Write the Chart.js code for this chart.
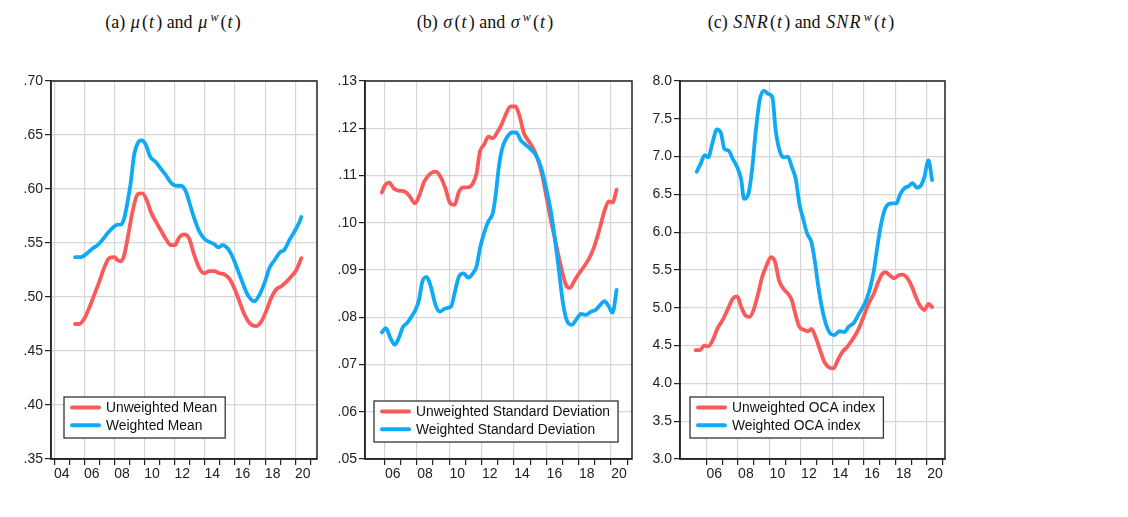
<!DOCTYPE html>
<html>
<head>
<meta charset="utf-8">
<script src="https://cdn.jsdelivr.net/npm/chart.js@4.4.1/dist/chart.umd.min.js"></script>
<style>
  body { margin: 0; background: #fff; width: 1128px; height: 517px; position: relative; overflow: hidden; }
  canvas { position: absolute; top: 60px; }
  .title { position: absolute; top: 11px; font-family: "Liberation Serif", "DejaVu Serif", serif; font-size: 18px; line-height: 22px; white-space: nowrap; transform: translateX(-50%); color: #111; }
  .title i { letter-spacing: 1.2px; padding: 0 1px; }
  .title sup { font-size: 12px; vertical-align: 7px; line-height: 0; }
</style>
</head>
<body>
<div class="title" style="left:173px">(a) <i>μ</i>(<i>t</i>) and <i>μ</i><sup><i>w</i></sup>(<i>t</i>)</div>
<div class="title" style="left:485px">(b) <i>σ</i>(<i>t</i>) and <i>σ</i><sup><i>w</i></sup>(<i>t</i>)</div>
<div class="title" style="left:801px">(c) <i>SNR</i>(<i>t</i>) and <i>SNR</i><sup><i>w</i></sup>(<i>t</i>)</div>

<canvas id="meanChart" width="330" height="430" style="left:0px"></canvas>
<canvas id="sdChart" width="330" height="430" style="left:320px"></canvas>
<canvas id="snrChart" width="330" height="430" style="left:640px"></canvas>

<script>
// (a) cross-sectional mean
const meanUwYears = [2005.38, 2005.67, 2006.0, 2006.33, 2006.66, 2006.99, 2007.32, 2007.65, 2007.99, 2008.21, 2008.43, 2008.65, 2008.87, 2009.2, 2009.53, 2009.86, 2010.19, 2010.41, 2010.74, 2011.07, 2011.4, 2011.74, 2012.0, 2012.29, 2012.62, 2012.96, 2013.29, 2013.62, 2013.96, 2014.29, 2014.62, 2014.96, 2015.29, 2015.62, 2015.96, 2016.29, 2016.62, 2016.96, 2017.4, 2017.73, 2018.07, 2018.4, 2018.73, 2019.07, 2019.4, 2019.73, 2020.07, 2020.4];
const meanUw = [.475, .475, .480, .490, .502, .514, .527, .536, .537, .534, .533, .539, .554, .579, .595, .596, .588, .579, .570, .562, .554, .548, .548, .555, .558, .554, .539, .527, .522, .524, .524, .522, .521, .517, .508, .496, .484, .476, .473, .477, .487, .499, .507, .510, .514, .519, .525, .536];
const meanWYears = [2005.38, 2005.78, 2006.22, 2006.55, 2006.88, 2007.21, 2007.54, 2007.88, 2008.2, 2008.43, 2008.65, 2008.87, 2009.09, 2009.31, 2009.53, 2009.79, 2010.08, 2010.37, 2010.74, 2011.07, 2011.4, 2011.74, 2012.07, 2012.4, 2012.73, 2012.96, 2013.29, 2013.62, 2013.96, 2014.29, 2014.62, 2014.91, 2015.18, 2015.51, 2015.84, 2016.18, 2016.51, 2016.84, 2017.29, 2017.62, 2017.96, 2018.29, 2018.62, 2018.96, 2019.29, 2019.62, 2019.96, 2020.29, 2020.4];
const meanW = [.537, .537, .541, .545, .548, .553, .559, .564, .567, .567, .573, .588, .607, .632, .642, .645, .641, .630, .625, .619, .613, .606, .603, .603, .598, .588, .573, .561, .554, .551, .549, .546, .548, .545, .537, .525, .513, .502, .496, .502, .513, .527, .534, .541, .544, .553, .561, .570, .574];
const meanTicks = [.35, .40, .45, .50, .55, .60, .65, .70];

// (b) cross-sectional standard deviation
const sdUwYears = [2005.83, 2006.04, 2006.29, 2006.56, 2006.88, 2007.25, 2007.55, 2007.88, 2008.13, 2008.45, 2008.8, 2009.14, 2009.43, 2009.76, 2010.06, 2010.33, 2010.6, 2010.89, 2011.16, 2011.44, 2011.69, 2011.9, 2012.15, 2012.42, 2012.69, 2012.98, 2013.25, 2013.48, 2013.79, 2014.1, 2014.35, 2014.62, 2014.93, 2015.18, 2015.45, 2015.76, 2016.0, 2016.28, 2016.59, 2016.9, 2017.21, 2017.46, 2017.72, 2018.03, 2018.35, 2018.66, 2018.97, 2019.28, 2019.59, 2019.86, 2020.1, 2020.35];
const sdUw = [.1064, .1080, .1085, .1073, .1068, .1066, .1056, .1041, .1056, .1087, .1103, .1108, .1099, .1073, .1041, .1038, .1066, .1075, .1075, .1082, .1105, .1151, .1165, .1182, .1179, .1192, .1209, .1228, .1246, .1246, .1225, .1189, .1172, .1158, .1137, .1098, .1056, .1006, .0957, .0908, .0869, .0862, .0876, .0893, .0908, .0925, .0950, .0985, .1024, .1045, .1043, .1070];
const sdWYears = [2005.83, 2006.08, 2006.36, 2006.63, 2006.88, 2007.13, 2007.4, 2007.67, 2007.92, 2008.13, 2008.34, 2008.59, 2008.86, 2009.14, 2009.43, 2009.76, 2010.12, 2010.33, 2010.6, 2010.89, 2011.16, 2011.44, 2011.69, 2011.9, 2012.15, 2012.42, 2012.69, 2012.86, 2013.07, 2013.28, 2013.59, 2013.9, 2014.14, 2014.41, 2014.72, 2015.03, 2015.34, 2015.66, 2015.97, 2016.28, 2016.54, 2016.79, 2017.0, 2017.25, 2017.58, 2017.87, 2018.14, 2018.45, 2018.76, 2019.07, 2019.38, 2019.59, 2019.86, 2020.1, 2020.35];
const sdW = [.0768, .0777, .0756, .0742, .0756, .0779, .0788, .0802, .0816, .0837, .0876, .0885, .0865, .0827, .0812, .0819, .0823, .0851, .0886, .0893, .0884, .0892, .0908, .0946, .0978, .1003, .1020, .1056, .1119, .1158, .1182, .1191, .1191, .1175, .1165, .1156, .1144, .1119, .1077, .1024, .0964, .0897, .0837, .0795, .0784, .0796, .0807, .0805, .0812, .0816, .0828, .0834, .0823, .0810, .0858];
const sdTicks = [.05, .06, .07, .08, .09, .10, .11, .12, .13];

// (c) signal-to-noise ratio (OCA index)
const snrUwYears = [2005.31, 2005.59, 2005.85, 2006.11, 2006.39, 2006.71, 2007.03, 2007.35, 2007.67, 2007.95, 2008.21, 2008.47, 2008.74, 2009.02, 2009.28, 2009.54, 2009.81, 2010.09, 2010.35, 2010.61, 2010.89, 2011.16, 2011.42, 2011.64, 2011.89, 2012.17, 2012.45, 2012.66, 2012.93, 2013.21, 2013.49, 2013.79, 2014.06, 2014.34, 2014.64, 2014.92, 2015.24, 2015.56, 2015.84, 2016.09, 2016.35, 2016.63, 2016.9, 2017.16, 2017.37, 2017.63, 2017.91, 2018.19, 2018.44, 2018.76, 2019.04, 2019.3, 2019.55, 2019.83, 2020.09, 2020.32];
const snrUw = [4.44, 4.44, 4.50, 4.49, 4.57, 4.73, 4.84, 4.98, 5.12, 5.15, 5.01, 4.90, 4.88, 4.99, 5.19, 5.41, 5.56, 5.67, 5.61, 5.36, 5.25, 5.19, 5.10, 4.92, 4.75, 4.71, 4.69, 4.72, 4.61, 4.44, 4.28, 4.21, 4.20, 4.31, 4.42, 4.48, 4.57, 4.68, 4.81, 4.95, 5.08, 5.19, 5.34, 5.45, 5.47, 5.43, 5.39, 5.43, 5.44, 5.39, 5.28, 5.14, 5.03, 4.97, 5.05, 5.01];
const snrWYears = [2005.38, 2005.64, 2005.89, 2006.11, 2006.39, 2006.66, 2006.92, 2007.14, 2007.39, 2007.67, 2007.95, 2008.21, 2008.38, 2008.64, 2008.89, 2009.11, 2009.39, 2009.66, 2009.92, 2010.18, 2010.39, 2010.67, 2010.89, 2011.16, 2011.42, 2011.68, 2011.89, 2012.11, 2012.39, 2012.66, 2012.89, 2013.1, 2013.36, 2013.64, 2013.91, 2014.13, 2014.43, 2014.77, 2015.02, 2015.35, 2015.62, 2015.88, 2016.14, 2016.41, 2016.63, 2016.84, 2017.05, 2017.27, 2017.54, 2017.8, 2018.06, 2018.27, 2018.55, 2018.83, 2019.08, 2019.34, 2019.62, 2019.83, 2020.09, 2020.32];
const snrW = [6.80, 6.91, 7.02, 6.99, 7.19, 7.36, 7.31, 7.10, 7.08, 6.97, 6.86, 6.69, 6.44, 6.49, 6.82, 7.30, 7.76, 7.87, 7.83, 7.79, 7.35, 7.06, 6.99, 7.00, 6.86, 6.69, 6.38, 6.20, 5.98, 5.87, 5.60, 5.28, 4.97, 4.75, 4.65, 4.64, 4.69, 4.68, 4.75, 4.80, 4.90, 4.99, 5.10, 5.28, 5.50, 5.80, 6.07, 6.27, 6.37, 6.38, 6.38, 6.49, 6.58, 6.61, 6.65, 6.59, 6.62, 6.73, 6.95, 6.69];
const snrTicks = [3.0, 3.5, 4.0, 4.5, 5.0, 5.5, 6.0, 6.5, 7.0, 7.5, 8.0];

const RED = '#fb5a5a';
const BLUE = '#0fa9f6';
const GRID = '#d6d6d6';
const INK = '#222';
const FONT = { family: '"Liberation Sans", Arial, sans-serif', size: 14 };

function points(xs, ys) {
  return xs.map((x, i) => ({ x: x, y: ys[i] }));
}

function yearRange(first, last) {
  const out = [];
  for (let y = first; y <= last; y++) out.push(y);
  return out;
}

// plot frame plus the boxed key in the lower left corner
const frameAndKey = {
  id: 'frameAndKey',
  afterDatasetsDraw(chart, args, opts) {
    const ctx = chart.ctx, a = chart.chartArea;
    ctx.save();
    ctx.strokeStyle = INK;
    ctx.lineWidth = 1.5;
    ctx.strokeRect(a.left, a.top, a.right - a.left, a.bottom - a.top);

    ctx.font = '13.8px "Liberation Sans", Arial, sans-serif';
    const sets = chart.data.datasets;
    const textW = Math.max(...sets.map(d => ctx.measureText(d.label).width));
    const h = 41;
    const w = 42 + textW + 8;
    const x0 = a.left + opts.dx;
    const y0 = a.bottom - opts.dy - h;
    ctx.fillStyle = '#fff';
    ctx.fillRect(x0, y0, w, h);
    ctx.strokeStyle = '#333';
    ctx.lineWidth = 1.3;
    ctx.strokeRect(x0, y0, w, h);
    sets.forEach((d, i) => {
      const y = y0 + 10.5 + i * 17.7;
      ctx.strokeStyle = d.borderColor;
      ctx.lineWidth = 4;
      ctx.lineCap = 'round';
      ctx.beginPath();
      ctx.moveTo(x0 + 8, y);
      ctx.lineTo(x0 + 35, y);
      ctx.stroke();
      ctx.fillStyle = '#111';
      ctx.textBaseline = 'middle';
      ctx.fillText(d.label, x0 + 42, y + 0.5);
    });
    ctx.restore();
  }
};

function makeChart(id, cfg) {
  const years = yearRange(cfg.firstTick, 2021);
  return new Chart(document.getElementById(id), {
    type: 'line',
    data: {
      datasets: [
        { label: cfg.labels[0], data: points(cfg.uwYears, cfg.uw), borderColor: RED, order: 1 },
        { label: cfg.labels[1], data: points(cfg.wYears, cfg.w), borderColor: BLUE, order: 0 }
      ]
    },
    options: {
      responsive: false,
      animation: false,
      layout: { padding: { top: 21, right: cfg.padRight, left: 0, bottom: 0 } },
      elements: {
        point: { radius: 0 },
        line: { borderWidth: 3.8, cubicInterpolationMode: 'monotone', borderCapStyle: 'round', borderJoinStyle: 'round' }
      },
      plugins: {
        legend: { display: false },
        tooltip: { enabled: false },
        frameAndKey: cfg.key
      },
      scales: {
        x: {
          type: 'linear',
          min: cfg.xMin,
          max: cfg.xMax,
          afterBuildTicks: s => { s.ticks = years.map(v => ({ value: v })); },
          afterFit: s => { s.height = 31; },
          border: { color: INK, width: 1.5 },
          grid: {
            color: c => (c.tick && c.tick.value % 2 === 0) ? GRID : 'rgba(0,0,0,0)',
            lineWidth: 1.2,
            tickColor: INK,
            tickLength: 6
          },
          ticks: {
            autoSkip: false,
            maxRotation: 0,
            labelOffset: cfg.labelOffset,
            padding: 1,
            color: INK,
            font: FONT,
            callback: v => v % 2 === 0 ? String(v).slice(2) : ''
          }
        },
        y: {
          min: cfg.ticks[0],
          max: cfg.ticks[cfg.ticks.length - 1],
          afterBuildTicks: s => { s.ticks = cfg.ticks.map(v => ({ value: v })); },
          afterFit: s => { s.width = cfg.axisWidth; },
          border: { color: INK, width: 1.5 },
          grid: { color: GRID, lineWidth: 1.2, tickColor: INK, tickLength: 6 },
          ticks: { padding: 2, color: INK, font: FONT, callback: cfg.fmt }
        }
      }
    },
    plugins: [frameAndKey]
  });
}

makeChart('meanChart', {
  labels: ['Unweighted Mean', 'Weighted Mean'],
  uwYears: meanUwYears, uw: meanUw, wYears: meanWYears, w: meanW,
  ticks: meanTicks, fmt: v => v.toFixed(2).replace(/^0/, ''),
  xMin: 2003.79, xMax: 2021.44, firstTick: 2004, labelOffset: 7.5,
  axisWidth: 51, padRight: 13, key: { dx: 13, dy: 21 }
});

makeChart('sdChart', {
  labels: ['Unweighted Standard Deviation', 'Weighted Standard Deviation'],
  uwYears: sdUwYears, uw: sdUw, wYears: sdWYears, w: sdW,
  ticks: sdTicks, fmt: v => v.toFixed(2).replace(/^0/, ''),
  xMin: 2004.79, xMax: 2021.3, firstTick: 2006, labelOffset: 8.1,
  axisWidth: 45, padRight: 18, key: { dx: 9, dy: 17 }
});

makeChart('snrChart', {
  labels: ['Unweighted OCA index', 'Weighted OCA index'],
  uwYears: snrUwYears, uw: snrUw, wYears: snrWYears, w: snrW,
  ticks: snrTicks, fmt: v => v.toFixed(1),
  xMin: 2004.32, xMax: 2021.14, firstTick: 2006, labelOffset: 7.9,
  axisWidth: 40, padRight: 25, key: { dx: 10, dy: 21 }
});
</script>
</body>
</html>
